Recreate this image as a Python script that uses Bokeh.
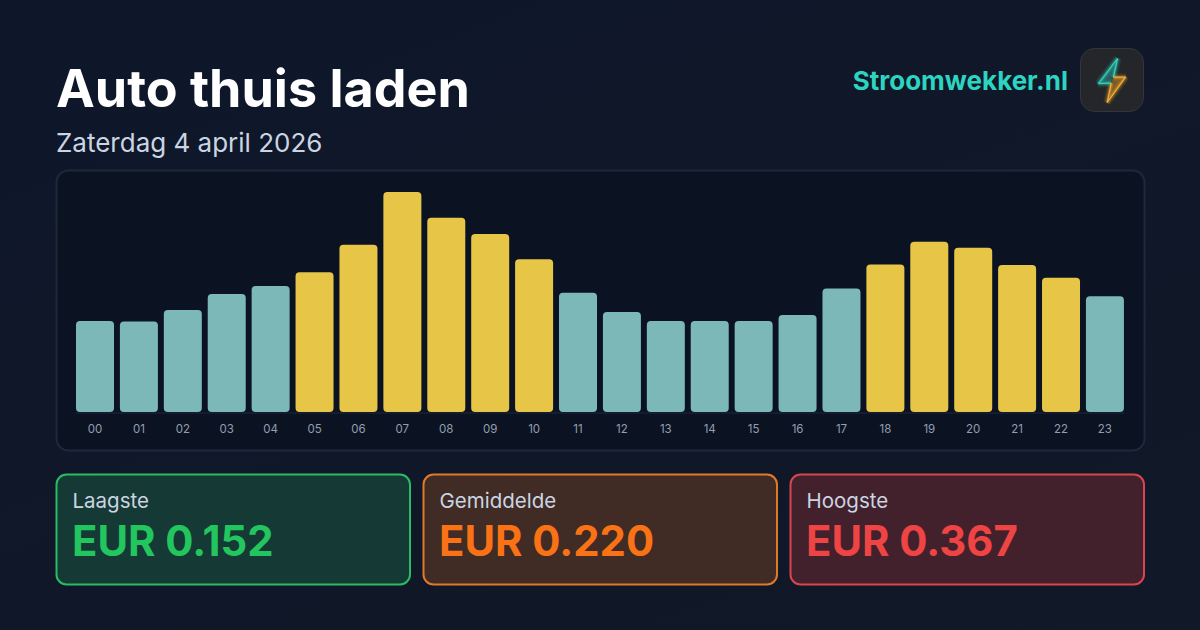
from bokeh.plotting import figure
from bokeh.models import Range1d, BoxAnnotation, Label, PolyAnnotation, FixedTicker, LinearAxis
from bokeh.embed import file_html
from bokeh.resources import INLINE

hours = list(range(24))
hour_labels = ["%02d" % h for h in hours]
prices = [0.152, 0.151, 0.170, 0.197, 0.210, 0.233, 0.279, 0.367, 0.324, 0.297, 0.255, 0.199,
          0.167, 0.152, 0.152, 0.152, 0.162, 0.206, 0.246, 0.284, 0.274, 0.245, 0.224, 0.193]
average = 0.220
title = "Auto thuis laden"
subtitle = "Zaterdag 4 april 2026"
brand = "Stroomwekker.nl"
card_names = ["Laagste", "Gemiddelde", "Hoogste"]
card_values = ["EUR 0.152", "EUR 0.220", "EUR 0.367"]
card_colors = ["#22c55e", "#f97316", "#ef4444"]
card_lines = ["#2bbb63", "#e07a28", "#d9444f"]
card_fills = ["#153a35", "#402c25", "#42212d"]
card_lefts = [56, 423, 790]

W, H = 1200, 630
BASE = 411.5

p = figure(width=W, height=H, output_backend="svg", toolbar_location=None,
           x_range=Range1d(-94.5 / 43.91, (W - 94.5) / 43.91),
           y_range=Range1d(-(H - BASE) / 599.5, BASE / 599.5),
           min_border_left=0, min_border_right=0, min_border_top=0, min_border_bottom=0,
           x_axis_location=None, y_axis_location=None)
p.outline_line_color = None
p.background_fill_color = None
p.border_fill_color = None
p.grid.visible = False

colors = ["#e6c547" if v > average else "#7db8b8" for v in prices]
p.vbar(x=hours, top=prices, bottom=0, width=38 / 43.91, color=colors, line_color=None, border_radius=4)

ax = LinearAxis(ticker=FixedTicker(ticks=hours),
                major_label_overrides={h: s for h, s in zip(hours, hour_labels)},
                fixed_location=0)
ax.axis_line_color = None
ax.major_tick_line_color = None
ax.minor_tick_line_color = None
ax.major_label_text_color = "#949eae"
ax.major_label_text_font = "Inter"
ax.major_label_text_font_size = "11.5px"
ax.major_label_standoff = 6
p.add_layout(ax, "below")


def sy(y):
    return H - y


def box(l, r, t, b, fill, line, lw, radius, level="underlay"):
    p.add_layout(BoxAnnotation(left=l, right=r, top=sy(t), bottom=sy(b),
                               left_units="screen", right_units="screen",
                               top_units="screen", bottom_units="screen",
                               fill_color=fill, fill_alpha=1, line_color=line, line_alpha=1, line_width=lw,
                               border_radius=radius, level=level))


def text(x, y, s, size, color, style="normal", align="left"):
    # y is the wanted baseline; the renderer's alphabetic anchor sits about 0.38 em higher
    p.add_layout(Label(x=x, y=sy(y - 0.38 * size), x_units="screen", y_units="screen", text=s,
                       text_font="Inter", text_font_size=f"{size}px", text_font_style=style,
                       text_color=color, text_align=align, text_baseline="alphabetic"))


def poly(pts, fill, falpha, line, lalpha, lw):
    p.add_layout(PolyAnnotation(xs=[a for a, _ in pts], ys=[sy(b) for _, b in pts],
                                xs_units="screen", ys_units="screen",
                                fill_color=fill, fill_alpha=falpha,
                                line_color=line, line_alpha=lalpha, line_width=lw))


def stroke(pts, color, alpha, lw):
    path = pts + pts[-2:0:-1]
    poly(path, color, 0, color, alpha, lw)


box(56, 1144, 170, 450, "#0b1323", "#1e293b", 2, 12)
box(76, 1124, 412, 413, "#1e293b", None, 0, 0)
for l, c, f in zip(card_lefts, card_lines, card_fills):
    box(l, l + 353.5, 474, 584, f, c, 2, 10)

text(55.5, 108, title, 52, "#ffffff", "bold")
text(55.5, 152, subtitle, 26, "#cbd5e1")
text(1067.5, 90, brand, 26, "#2dd4bf", "bold", "right")

for l, n, v, c in zip(card_lefts, card_names, card_values, card_colors):
    text(l + 16, 508, n, 20.5, "#cbd5e1")
    text(l + 15.5, 556, v, 41.8, c, "bold")

# logo
box(1080, 1143, 48, 111, "#24262a", "#33363c", 1, 14, level="annotation")
upper = [(1113, 76.7), (1117, 58), (1098, 83), (1110.7, 82.7)]
lower = [(1110.7, 82.7), (1106.7, 102), (1125, 76.7), (1113, 76.7)]
poly(upper, "#2dd4bf", 0.3, None, 0, 0)
poly(lower, "#f5a623", 0.4, None, 0, 0)
for width, alpha in [(8, 0.1), (5, 0.18), (3, 0.25)]:
    stroke(upper, "#2dd4bf", alpha, width)
    stroke(lower, "#f5a623", alpha, width)
stroke(upper, "#35d6c0", 1, 1.2)
stroke(lower, "#f5b041", 1, 1.2)

html = file_html(p, INLINE)
html = html.replace("</head>", "<style>html,body{margin:0;padding:0;background:linear-gradient(160deg,#0e172a,#111827);overflow:hidden;height:630px}</style></head>")
open("out.html", "w").write(html)
